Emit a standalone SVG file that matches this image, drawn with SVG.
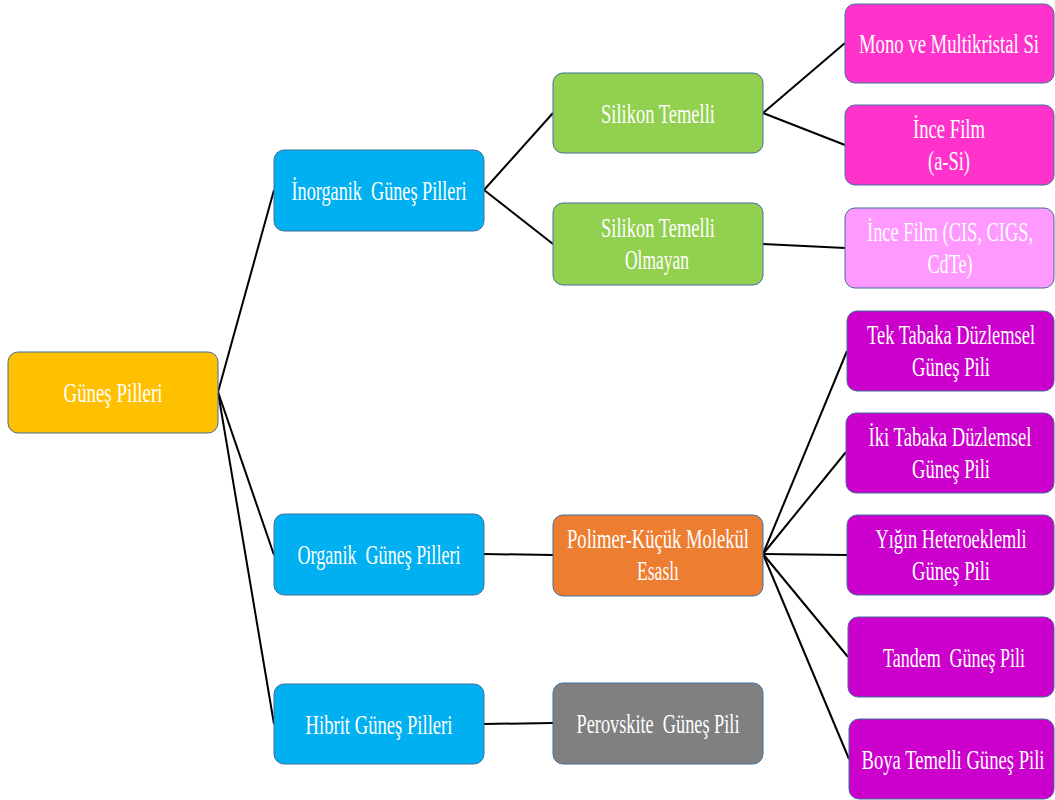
<svg xmlns="http://www.w3.org/2000/svg" width="1055" height="800" viewBox="0 0 1055 800">
<style>
.n{stroke:#41719C;stroke-width:1}
.t{font-family:"Liberation Serif","Times New Roman",serif;font-size:19px;fill:#fff;text-anchor:middle}
.c{stroke:#000;stroke-width:2;fill:none}
</style>
<rect width="1055" height="800" fill="#fff"/>
<g id="connectors">
<line class="c" x1="218" y1="392" x2="274" y2="190"/>
<line class="c" x1="218" y1="392" x2="274" y2="555"/>
<line class="c" x1="218" y1="392" x2="274" y2="724"/>
<line class="c" x1="484" y1="190" x2="553" y2="113"/>
<line class="c" x1="484" y1="190" x2="553" y2="244"/>
<line class="c" x1="763" y1="113" x2="845" y2="43"/>
<line class="c" x1="763" y1="113" x2="845" y2="145"/>
<line class="c" x1="763" y1="244" x2="845" y2="248"/>
<line class="c" x1="484" y1="554" x2="553" y2="555"/>
<line class="c" x1="484" y1="724" x2="553" y2="723"/>
<line class="c" x1="763" y1="554" x2="847" y2="351"/>
<line class="c" x1="763" y1="554" x2="846" y2="452"/>
<line class="c" x1="763" y1="554" x2="847" y2="555"/>
<line class="c" x1="763" y1="554" x2="848" y2="657"/>
<line class="c" x1="763" y1="554" x2="849" y2="759"/>
</g>
<g id="gunes-pilleri"><rect class="n" x="8" y="352" width="210" height="81" rx="10" fill="#FFC000"/><text class="t" transform="translate(113,402) scale(1,1.42)" textLength="99" lengthAdjust="spacingAndGlyphs">Güneş Pilleri</text></g>
<g id="inorganik"><rect class="n" x="274" y="150" width="210" height="81" rx="10" fill="#00B0F0"/><text class="t" transform="translate(379,200) scale(1,1.42)" textLength="175" lengthAdjust="spacingAndGlyphs">İnorganik&#160; Güneş Pilleri</text></g>
<g id="organik"><rect class="n" x="274" y="514" width="210" height="81" rx="10" fill="#00B0F0"/><text class="t" transform="translate(379,564) scale(1,1.42)" textLength="163" lengthAdjust="spacingAndGlyphs">Organik&#160; Güneş Pilleri</text></g>
<g id="hibrit"><rect class="n" x="274" y="684" width="210" height="80" rx="10" fill="#00B0F0"/><text class="t" transform="translate(379,734) scale(1,1.42)" textLength="147" lengthAdjust="spacingAndGlyphs">Hibrit Güneş Pilleri</text></g>
<g id="silikon"><rect class="n" x="553" y="73" width="210" height="80" rx="10" fill="#92D050"/><text class="t" transform="translate(658,123) scale(1,1.42)" textLength="114" lengthAdjust="spacingAndGlyphs">Silikon Temelli</text></g>
<g id="silikon-olmayan"><rect class="n" x="553" y="203" width="210" height="82" rx="10" fill="#92D050"/><text class="t" transform="translate(658,237) scale(1,1.42)" textLength="114" lengthAdjust="spacingAndGlyphs">Silikon Temelli</text><text class="t" transform="translate(657,269) scale(1,1.42)" textLength="64" lengthAdjust="spacingAndGlyphs">Olmayan</text></g>
<g id="polimer"><rect class="n" x="553" y="515" width="210" height="81" rx="10" fill="#ED7D31"/><text class="t" transform="translate(658,548) scale(1,1.42)" textLength="182" lengthAdjust="spacingAndGlyphs">Polimer-Küçük Molekül</text><text class="t" transform="translate(658,580) scale(1,1.42)" textLength="42" lengthAdjust="spacingAndGlyphs">Esaslı</text></g>
<g id="perovskite"><rect class="n" x="553" y="683" width="210" height="81" rx="10" fill="#808080"/><text class="t" transform="translate(658,733) scale(1,1.42)" textLength="163" lengthAdjust="spacingAndGlyphs">Perovskite&#160; Güneş Pili</text></g>
<g id="mono"><rect class="n" x="845" y="4" width="209" height="79" rx="10" fill="#FF33CC"/><text class="t" transform="translate(949,53) scale(1,1.42)" textLength="180" lengthAdjust="spacingAndGlyphs">Mono ve Multikristal Si</text></g>
<g id="ince-film-asi"><rect class="n" x="845" y="105" width="209" height="80" rx="10" fill="#FF33CC"/><text class="t" transform="translate(949,138) scale(1,1.42)" textLength="72" lengthAdjust="spacingAndGlyphs">İnce Film</text><text class="t" transform="translate(949,170) scale(1,1.42)" textLength="42" lengthAdjust="spacingAndGlyphs">(a-Si)</text></g>
<g id="ince-film-cis"><rect class="n" x="845" y="208" width="209" height="80" rx="10" fill="#FF99FF"/><text class="t" transform="translate(950,241) scale(1,1.42)" textLength="166" lengthAdjust="spacingAndGlyphs">İnce Film (CIS, CIGS,</text><text class="t" transform="translate(950,273) scale(1,1.42)" textLength="45" lengthAdjust="spacingAndGlyphs">CdTe)</text></g>
<g id="tek-tabaka"><rect class="n" x="847" y="311" width="207" height="80" rx="10" fill="#CC00CC"/><text class="t" transform="translate(951,344) scale(1,1.42)" textLength="168" lengthAdjust="spacingAndGlyphs">Tek Tabaka Düzlemsel</text><text class="t" transform="translate(951,376) scale(1,1.42)" textLength="78" lengthAdjust="spacingAndGlyphs">Güneş Pili</text></g>
<g id="iki-tabaka"><rect class="n" x="846" y="413" width="208" height="80" rx="10" fill="#CC00CC"/><text class="t" transform="translate(950,446) scale(1,1.42)" textLength="163" lengthAdjust="spacingAndGlyphs">İki Tabaka Düzlemsel</text><text class="t" transform="translate(951,478) scale(1,1.42)" textLength="78" lengthAdjust="spacingAndGlyphs">Güneş Pili</text></g>
<g id="yigin"><rect class="n" x="847" y="515" width="207" height="80" rx="10" fill="#CC00CC"/><text class="t" transform="translate(951,548) scale(1,1.42)" textLength="151" lengthAdjust="spacingAndGlyphs">Yığın Heteroeklemli</text><text class="t" transform="translate(951,580) scale(1,1.42)" textLength="78" lengthAdjust="spacingAndGlyphs">Güneş Pili</text></g>
<g id="tandem"><rect class="n" x="848" y="617" width="206" height="80" rx="10" fill="#CC00CC"/><text class="t" transform="translate(954,667) scale(1,1.42)" textLength="142" lengthAdjust="spacingAndGlyphs">Tandem&#160; Güneş Pili</text></g>
<g id="boya"><rect class="n" x="849" y="719" width="205" height="80" rx="10" fill="#CC00CC"/><text class="t" transform="translate(953,769) scale(1,1.42)" textLength="183" lengthAdjust="spacingAndGlyphs">Boya Temelli Güneş Pili</text></g>
</svg>
